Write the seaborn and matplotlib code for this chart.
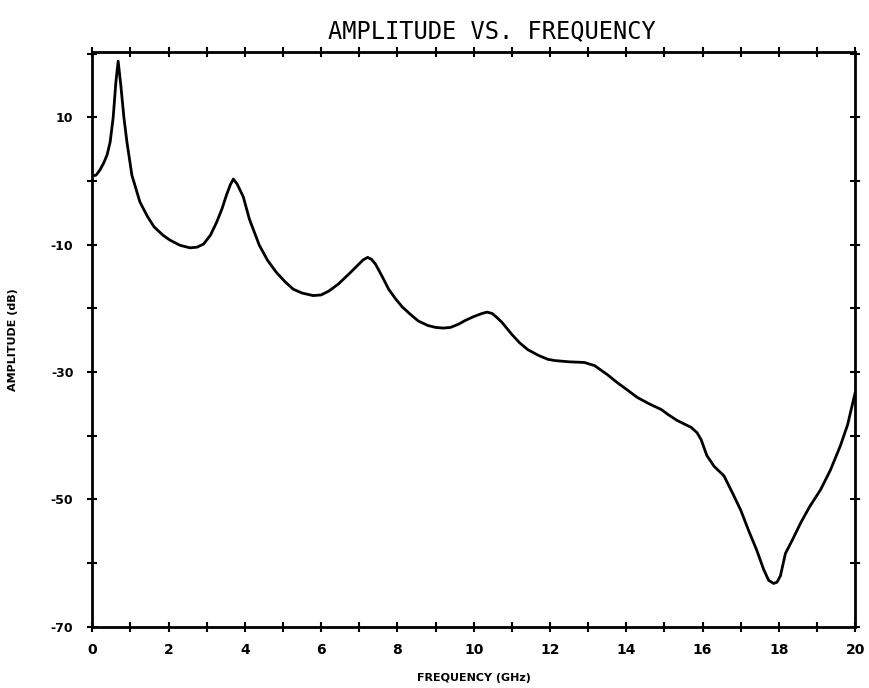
import matplotlib
matplotlib.use("Agg")
import matplotlib.pyplot as plt
import seaborn as sns
import pandas as pd
from matplotlib.ticker import MultipleLocator, FixedLocator

freq_ghz = [0, 0.1, 0.2, 0.3, 0.39, 0.47, 0.55, 0.62, 0.68, 0.75, 0.83, 0.91, 1.04, 1.25, 1.45,
            1.62, 1.85, 2.04, 2.3, 2.56, 2.75, 2.92, 3.1, 3.26, 3.4, 3.52, 3.62, 3.70, 3.80, 3.96,
            4.12, 4.38, 4.6, 4.82, 5.05, 5.27, 5.5, 5.79, 6.0, 6.2, 6.45, 6.73, 6.95, 7.1, 7.22,
            7.32, 7.43, 7.6, 7.77, 7.95, 8.13, 8.35, 8.55, 8.8, 9.0, 9.2, 9.39, 9.6, 9.78, 10.0,
            10.22, 10.35, 10.48, 10.6, 10.74, 11.0, 11.2, 11.42, 11.7, 11.94, 12.12, 12.5, 12.9,
            13.17, 13.5, 13.77, 14.0, 14.29, 14.6, 14.92, 15.1, 15.33, 15.5, 15.7, 15.85, 15.96,
            16.11, 16.3, 16.56, 16.8, 17.0, 17.2, 17.42, 17.6, 17.73, 17.86, 17.95, 18.04, 18.17,
            18.35, 18.57, 18.8, 19.09, 19.35, 19.61, 19.8, 20.0]
amplitude_db = [0.8, 0.9, 1.7, 2.8, 4.1, 6.1, 10.0, 15.5, 18.8, 15.0, 10.0, 6.1, 0.9, -3.3, -5.6,
                -7.2, -8.5, -9.3, -10.1, -10.5, -10.4, -9.9, -8.5, -6.5, -4.4, -2.2, -0.6, 0.3, -0.5, -2.5,
                -6.0, -10.1, -12.5, -14.3, -15.8, -17.0, -17.6, -18.0, -17.9, -17.3, -16.2, -14.6, -13.3, -12.4, -12.0,
                -12.3, -13.1, -15.0, -17.0, -18.5, -19.8, -21.0, -22.0, -22.7, -23.0, -23.1, -23.0, -22.5, -21.9, -21.3,
                -20.8, -20.6, -20.8, -21.4, -22.2, -24.1, -25.4, -26.5, -27.4, -28.0, -28.2, -28.4, -28.5,
                -29.0, -30.4, -31.7, -32.7, -34.0, -35.0, -35.9, -36.7, -37.6, -38.1, -38.7, -39.5, -40.6,
                -43.1, -44.8, -46.3, -49.2, -51.7, -54.8, -58.0, -61.0, -62.7, -63.2, -63.0, -62.0, -58.5,
                -56.4, -53.7, -51.2, -48.5, -45.4, -41.6, -38.3, -33.2]

x_ticks = [0, 2, 4, 6, 8, 10, 12, 14, 16, 18, 20]
x_tick_labels = ["0", "2", "4", "6", "8", "10", "12", "14", "16", "18", "20"]
y_ticks = [10, -10, -30, -50, -70]
y_tick_labels = ["10", "-10", "-30", "-50", "-70"]

sns.set_theme(style="white")
plt.rcParams["font.family"] = ["DejaVu Sans"]

df = pd.DataFrame({"freq": freq_ghz, "amp": amplitude_db})

fig = plt.figure(figsize=(8.7, 6.88), dpi=100)
ax = fig.add_axes([0.106, 0.089, 0.877, 0.835])
sns.lineplot(data=df, x="freq", y="amp", color="black", linewidth=2.0, ax=ax, sort=True,
             solid_joinstyle="round", solid_capstyle="round")

ax.set_xlim(0, 20)
ax.set_ylim(-70, 20.2)

ax.xaxis.set_major_locator(FixedLocator(x_ticks))
ax.set_xticklabels(x_tick_labels, fontsize=10, fontweight="bold", color="black")
ax.xaxis.set_minor_locator(MultipleLocator(1))
ax.yaxis.set_major_locator(FixedLocator(y_ticks))
ax.set_yticklabels(y_tick_labels, fontsize=9, fontweight="bold", color="black")
ax.yaxis.set_minor_locator(MultipleLocator(10))

for side in ["top", "bottom", "left", "right"]:
    ax.spines[side].set_visible(True)
    ax.spines[side].set_color("black")
    ax.spines[side].set_linewidth(2.0)

ax.tick_params(which="both", direction="inout", top=True, right=True, bottom=True, left=True,
               length=7, width=1.5, color="black")
ax.tick_params(axis="x", which="major", pad=8)
ax.tick_params(axis="y", which="major", pad=10)

ax.set_xlabel("FREQUENCY (GHz)", fontsize=8, fontweight="bold", labelpad=12, color="black")
ax.set_ylabel("AMPLITUDE (dB)", fontsize=8, fontweight="bold", labelpad=24, color="black")
fig.text(0.565, 0.955, "AMPLITUDE VS. FREQUENCY", ha="center", va="center",
         fontsize=17, family="DejaVu Sans Mono", color="black")

fig.savefig("out.png", dpi=100)
